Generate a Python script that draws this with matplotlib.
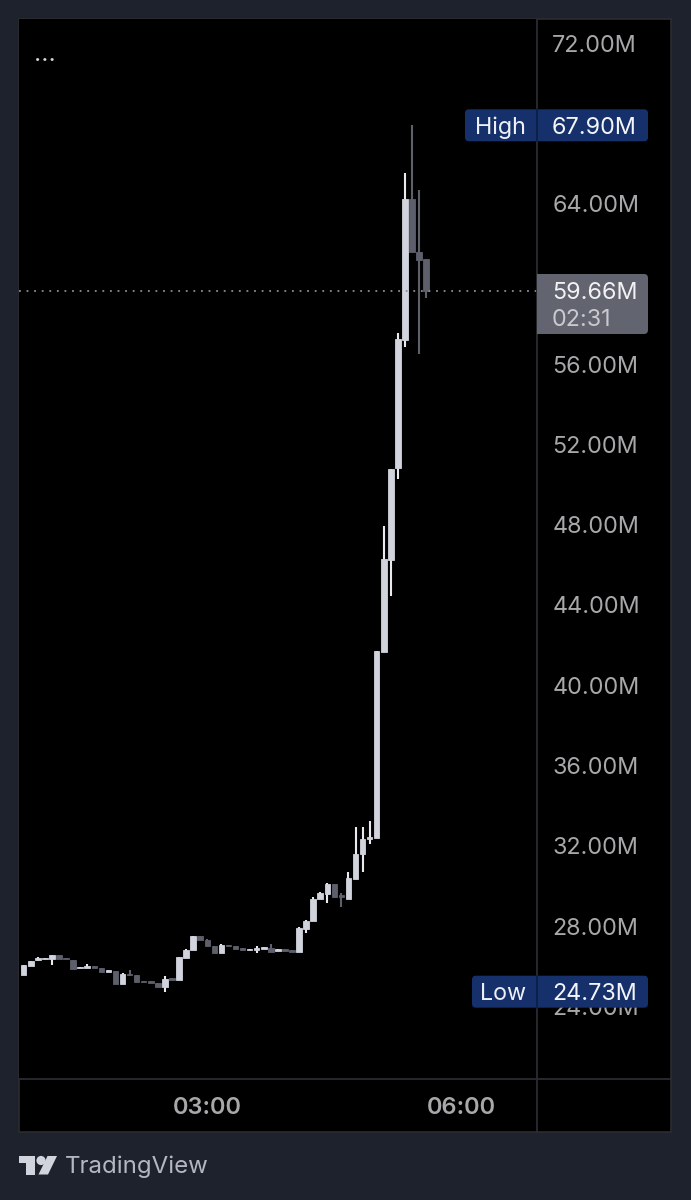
import matplotlib
matplotlib.use('Agg')
import matplotlib.pyplot as plt
from matplotlib.patches import FancyBboxPatch, Rectangle, Polygon, Circle

# 5 minute candles, values in millions
opens = [25.55, 26.03, 26.31, 26.34, 26.38, 26.54, 26.43, 26.31, 25.89, 25.93,
         26.01, 25.89, 25.71, 25.76, 25.10, 25.61, 25.56, 25.28, 25.25, 25.18,
         24.98, 25.40, 25.30, 26.41, 26.81, 27.51, 27.31, 27.02, 26.68, 27.07,
         27.01, 26.89, 26.81, 26.82, 26.87, 26.92, 26.78, 26.84, 26.82, 26.71,
         27.87, 28.25, 29.33, 29.60, 30.08, 29.55, 29.37, 30.36, 31.57, 32.36,
         32.39, 41.67, 46.24, 50.82, 57.20, 64.21, 61.60, 61.22]
closes = [26.04, 26.28, 26.39, 26.41, 26.56, 26.38, 26.34, 25.86, 25.98, 26.01,
          25.93, 25.71, 25.80, 25.10, 25.60, 25.55, 25.23, 25.20, 25.16, 24.96,
          25.38, 25.30, 26.45, 26.82, 27.51, 27.29, 27.01, 26.68, 27.04, 27.01,
          26.84, 26.81, 26.87, 26.89, 26.94, 26.73, 26.84, 26.78, 26.73, 27.89,
          28.25, 29.37, 29.63, 30.08, 29.47, 29.43, 30.40, 31.57, 32.34, 32.42,
          41.71, 46.27, 50.77, 57.25, 64.21, 61.57, 61.19, 59.66]
highs = [26.04, 26.28, 26.46, 26.41, 26.56, 26.54, 26.43, 26.31, 25.98, 26.11,
         26.01, 25.89, 25.80, 25.76, 25.65, 25.81, 25.56, 25.28, 25.25, 25.18,
         25.51, 25.40, 26.45, 26.86, 27.51, 27.51, 27.36, 27.02, 27.11, 27.07,
         27.01, 26.89, 26.87, 27.01, 26.94, 27.09, 26.84, 26.84, 26.82, 27.97,
         28.32, 29.43, 29.71, 30.13, 30.08, 29.63, 30.68, 32.95, 32.95, 33.24,
         41.71, 47.93, 50.77, 57.55, 65.52, 67.90, 64.68, 61.22]
lows = [25.55, 26.03, 26.26, 26.34, 26.08, 26.38, 26.34, 25.86, 25.89, 25.93,
        25.93, 25.71, 25.71, 25.10, 25.10, 25.51, 25.23, 25.20, 25.16, 24.96,
        24.73, 25.30, 25.30, 26.41, 26.81, 27.29, 27.01, 26.68, 26.68, 27.01,
        26.84, 26.81, 26.81, 26.68, 26.87, 26.73, 26.78, 26.78, 26.73, 26.71,
        27.64, 28.25, 29.33, 29.13, 29.47, 28.97, 29.37, 30.36, 30.70, 32.07,
        32.39, 41.67, 44.45, 50.28, 56.87, 61.57, 56.49, 59.31]

price_ticks = [24, 28, 32, 36, 40, 44, 48, 52, 56, 60, 64, 68, 72]
time_ticks = [26, 62]
time_labels = ['03:00', '06:00']
high_val = 67.90
low_val = 24.73
last_val = 59.66
countdown = '02:31'

W, H = 691, 1200
BG = '#1e222d'
UP = '#d1d4dc'
UP_WICK = '#e9e9ef'
DOWN = '#5d606b'
LINE = '#2b2c31'
TAG = '#15306b'
FONT = 'Inter'

plt.rcParams['font.family'] = FONT

fig = plt.figure(figsize=(W / 100, H / 100), dpi=100, facecolor=BG)

# chart pane, pixel box 19..537 x 19..1079
ax = fig.add_axes([19 / W, 1 - 1079 / H, (537 - 19) / W, (1079 - 19) / H], facecolor='black')
ax.set_xlim(-0.666, 72.7)
ax.set_ylim(20.38, 73.196)

for i in range(len(opens)):
    o, c = opens[i], closes[i]
    col = UP if c >= o else DOWN
    ax.vlines(i, lows[i], highs[i], color=UP_WICK if c >= o else DOWN, lw=1.5, zorder=2)
    ax.bar(i, abs(c - o), bottom=min(o, c), width=0.78, color=col, edgecolor=col, lw=0.6, zorder=3)

ax.axhline(last_val, color='#8a8d96', lw=1.3, ls=(0, (1, 3.2)), zorder=4)

ax.yaxis.tick_right()
ax.set_yticks(price_ticks)
ax.set_yticklabels(['%.2fM' % p for p in price_ticks], fontsize=16.8, color='#a8a8ab')
ax.set_xticks(time_ticks)
ax.set_xticklabels(time_labels, fontsize=17, color='#a8a8ab', fontweight='semibold')
ax.tick_params(axis='y', length=0, pad=11)
ax.tick_params(axis='x', length=0, pad=13)
for s in ax.spines.values():
    s.set_visible(False)

# overlay in pixel coordinates for pane frame, price tags and logo
ov = fig.add_axes([0, 0, 1, 1], facecolor='none', zorder=5)
ov.set_xlim(0, W)
ov.set_ylim(H, 0)
ov.axis('off')


def price_y(v):
    return H - ax.transData.transform((0, v))[1]


# black pane behind the price and time scales
back = fig.add_axes([19 / W, 1 - 1132 / H, (671 - 19) / W, (1132 - 19) / H], facecolor='black', zorder=-1)
back.set_xticks([])
back.set_yticks([])
for s in back.spines.values():
    s.set_color(LINE)
    s.set_linewidth(1.2)

ov.plot([537, 537], [19, 1132], color=LINE, lw=1.3, zorder=1)
ov.plot([19, 671], [1079, 1079], color=LINE, lw=1.3, zorder=1)


def tag(x0, x1, yc, h, color):
    ov.add_patch(FancyBboxPatch((x0 + 4, yc - h / 2 + 4), x1 - x0 - 8, h - 8,
                                boxstyle='round,pad=4,rounding_size=4', fc=color, ec='none', zorder=2))


yh = price_y(high_val)
tag(465, 648, yh, 32, TAG)
ov.plot([537, 537], [yh - 16, yh + 16], color='#0e1f47', lw=1.3, zorder=3)
ov.text(500, yh, 'High', color='#eef0f5', fontsize=16.8, ha='center', va='center_baseline', zorder=4)
ov.text(552, yh, '%.2fM' % high_val, color='#f4f5f8', fontsize=16.8, ha='left', va='center_baseline', zorder=4)

yl = price_y(low_val)
tag(472, 648, yl, 32, TAG)
ov.plot([537, 537], [yl - 16, yl + 16], color='#0e1f47', lw=1.3, zorder=3)
ov.text(503, yl, 'Low', color='#eef0f5', fontsize=16.8, ha='center', va='center_baseline', zorder=4)
ov.text(552, yl, '%.2fM' % low_val, color='#f4f5f8', fontsize=16.8, ha='left', va='center_baseline', zorder=4)

yc = price_y(last_val)
ov.add_patch(FancyBboxPatch((541, 278), 103, 52, boxstyle='round,pad=4,rounding_size=4',
                            fc='#62646f', ec='none', zorder=2))
ov.add_patch(Rectangle((537, 274), 6, 60, fc='#62646f', ec='none', zorder=2))
ov.text(552, yc, '%.2fM' % last_val, color='#f2f2f4', fontsize=16.8, ha='left', va='center_baseline', zorder=4)
ov.text(552, yc + 27, countdown, color='#c9c9ce', fontsize=16.8, ha='left', va='center_baseline', zorder=4)

# three dots top left
ov.text(45, 54.5, '...', color='#d8d8dc', fontsize=18, ha='center', va='center', zorder=4)

# TradingView logo
logo = '#d1d4dc'
ov.add_patch(Polygon([(19, 1156), (35.5, 1156), (35.5, 1174.5), (26.5, 1174.5), (26.5, 1163), (19, 1163)],
                     closed=True, fc=logo, ec='none'))
ov.add_patch(Circle((41, 1160.5), 4.6, fc=logo, ec='none'))
ov.add_patch(Polygon([(47.5, 1156), (57, 1156), (48, 1174.5), (38.5, 1174.5)], closed=True, fc=logo, ec='none'))
ov.text(65, 1164.5, 'TradingView', color='#b4b7c0', fontsize=17.3, ha='left', va='center_baseline')

fig.savefig('out.png', dpi=100, facecolor=BG)
